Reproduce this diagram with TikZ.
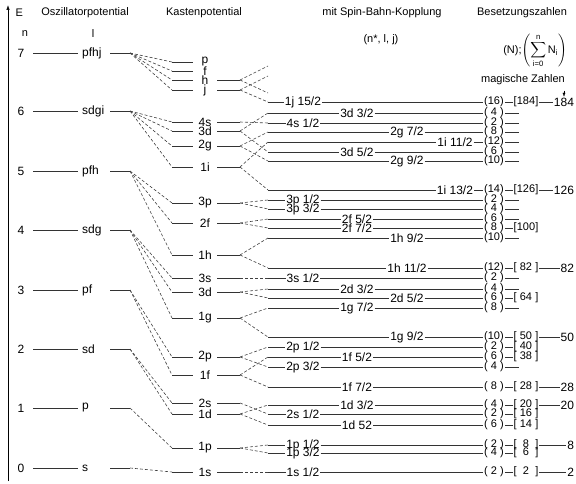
\documentclass[tikz,border=0pt]{standalone}
\usepackage{amsmath}
\usepackage{fontspec}
\setmainfont{Liberation Sans}
\usetikzlibrary{arrows.meta}
\newcommand{\occ}[1]{(\makebox[1.12em]{#1})}
\newcommand{\cum}[1]{[\makebox[1.7em]{#1}]}

\begin{document}
\begin{tikzpicture}[x=1pt, y=-1pt, font=\fontsize{11}{13}\selectfont,
  lvl/.style={line width=0.8pt, black!80},
  split/.style={line width=0.6pt, black!75, dash pattern=on 3pt off 2pt},
  lab/.style={inner sep=0.8pt},
  big/.style={font=\fontsize{12}{14}\selectfont}]
  \useasboundingbox (0,0) rectangle (576,484);

  % Energy axis and headers
  \coordinate (E0) at (8,481);
  \coordinate (E1) at (8,5);
  \draw[line width=0.7pt, -{Latex[length=5pt,width=3.5pt]}] (E0) -- (E1);
  \node[anchor=west] (hE) at (12,13) {E};
  \node (hOsc) at (85,13) {Oszillatorpotential};
  \node (hKast) at (204,13) {Kastenpotential};
  \node (hSB) at (382,13) {mit Spin-Bahn-Kopplung};
  \node (hBes) at (522,13) {Besetzungszahlen};
  \node (hn) at (25,34) {n};
  \node (hl) at (93,34) {l};
  \node (hnlj) at (381,40) {(n*, l, j)};
  \node[inner sep=0pt] (hsum) at (535,51) {(N);$\displaystyle\left(\sum_{\text{i=0}}^{\text{n}}\text{N}_{\text{i}}\right)$};
  \node (hmag) at (523,80) {magische Zahlen};

  % Oszillatorpotential
  \foreach \n/\y/\lab in {7/53/pfhj, 6/111/sdgi, 5/171/pfh, 4/230/sdg,
                           3/290/pf, 2/349/sd, 1/408/p, 0/468/s} {
    \node[big] (On\n) at (21,\y) {\n};
    \node[big, anchor=west, inner sep=0pt] (Ol\n) at (82,\y) {\lab};
    \coordinate (O\n-r) at (130,\y);
    \draw[lvl] (33,\y) -- (78,\y);
    \draw[lvl] (Ol\n.east -| 110,0) -- (O\n-r);
  }

  % Kastenpotential
  \foreach \id/\y/\lab in {p7/62/p, f7/71/f, h7/80/h, j7/90/j,
      s6/122/4s, d6/131/3d, g6/146/2g, i6/167/1i,
      p5/203/3p, f5/223/2f, h5/255/1h, s4/278/3s, d4/292/3d, g4/318/1g,
      p3/357/2p, f3/375/1f, s2/403/2s, d2/414/1d, p1/448/1p, s0/472/1s} {
    \node[lab, big] (K\id) at (205,\y) {\lab};
    \coordinate (K\id-l) at (172,\y);
    \coordinate (K\id-r) at (240,\y);
    \draw[lvl] (K\id-l) -- ++(21,0);
  }
  \foreach \id in {h7, j7, s6, d6, g6, i6, p5, f5, h5, s4, d4, g4,
                   p3, f3, s2, d2, p1, s0}
    \draw[lvl] (K\id-r) -- ++(-23,0);

  % Spin-Bahn-Kopplung levels
  \foreach \id/\y/\x/\txt/\num in {
      1j15/102/303/{1j 15/2}/16, 3d3/113/357/{3d 3/2}/4, 4s1/123/303/{4s 1/2}/2,
      2g7/132/407/{2g 7/2}/8, 1i11/142/455/{1i 11/2}/12, 3d5/152/357/{3d 5/2}/6,
      2g9/161/407/{2g 9/2}/10, 1i13/190/455/{1i 13/2}/14,
      3p1/200/303/{3p 1/2}/2, 3p3/209/303/{3p 3/2}/4, 2f5/219/357/{2f 5/2}/6,
      2f7/228/357/{2f 7/2}/8, 1h9/238/407/{1h 9/2}/10, 1h11/268/407/{1h 11/2}/12,
      3s1/278/303/{3s 1/2}/2, 2d3/289/357/{2d 3/2}/4, 2d5/298/407/{2d 5/2}/6,
      1g7/308/357/{1g 7/2}/8, 1g9/337/407/{1g 9/2}/10, 2p1/347/303/{2p 1/2}/2,
      1f5/357/357/{1f 5/2}/6, 2p3/367/303/{2p 3/2}/4, 1f7/387/357/{1f 7/2}/8,
      1d3/405/357/{1d 3/2}/4, 2s1/414/303/{2s 1/2}/2, 1d5/425/357/{1d 52}/6,
      1p1/445/303/{1p 1/2}/2, 1p3/453/303/{1p 3/2}/4, 1s1/472/303/{1s 1/2}/2} {
    \coordinate (S\id) at (268,\y);
    \node[lab, big, inner ysep=0pt] (S\id-t) at (\x,\y) {\txt};
    \node[lab, inner ysep=0pt] (S\id-n) at (494,\y) {\occ{\num}};
    \draw[lvl] (S\id) -- (S\id-t);
    \draw[lvl] (S\id-t) -- (S\id-n);
  }

  % stubs without sums
  \foreach \id in {3d3, 4s1, 2g7, 1i11, 3d5, 2g9, 3p1, 3p3, 2f5, 1h9,
                   3s1, 2d3, 1g7, 2p3}
    \draw[lvl] (S\id-n.east) -- ++(14,0);

  % sums and magic numbers
  \foreach \id/\sum in {1j15/184, 1i13/126, 2f7/100, 1h11/82, 2d5/64, 1g9/50,
      2p1/40, 1f5/38, 1f7/28, 1d3/20, 2s1/16, 1d5/14, 1p1/8, 1p3/6, 1s1/2} {
    \node[lab, inner ysep=0pt] (B\id) at (526,0 |- S\id) {\cum{\sum}};
    \draw[lvl] (S\id-n) -- (B\id);
  }
  \foreach \id/\mag in {1j15/184, 1i13/126, 1h11/82, 1g9/50, 1f7/28, 1d3/20,
                        1p1/8, 1s1/2} {
    \node[lab, big, anchor=east] (M\id) at (575,0 |- S\id) {\mag};
    \draw[lvl] (B\id) -- (M\id);
  }
  \draw[-{Latex[length=4pt,width=3pt]}] ([yshift=-2pt]M1j15.north |- hmag.south) -- (M1j15.north);

  % Oszillator -> Kasten
  \foreach \o/\k in {7/p7, 7/f7, 7/h7, 7/j7, 6/s6, 6/d6, 6/g6, 6/i6,
                     5/p5, 5/f5, 5/h5, 4/s4, 4/d4, 4/g4, 3/p3, 3/f3,
                     2/s2, 2/d2, 1/p1, 0/s0}
    \draw[split] (O\o-r) -- (K\k-l);

  % Kasten -> Spin-Bahn
  \foreach \k/\s in {j7/1j15, s6/4s1, d6/3d3, d6/3d5, g6/2g7, g6/2g9,
                     i6/1i11, i6/1i13, p5/3p1, p5/3p3, f5/2f5, f5/2f7,
                     h5/1h9, h5/1h11, s4/3s1, d4/2d3, d4/2d5, g4/1g7, g4/1g9,
                     p3/2p1, p3/2p3, f3/1f5, f3/1f7, s2/2s1, d2/1d3, d2/1d5,
                     p1/1p1, p1/1p3, s0/1s1}
    \draw[split] (K\k-r) -- (S\s);

  % upper split levels, not shown further
  \coordinate (u1) at (268,66);
  \coordinate (u2) at (268,76);
  \coordinate (u3) at (268,93);
  \draw[split] (Kh7-r) -- (u1);
  \draw[split] (Kh7-r) -- (u3);
  \draw[split] (Kj7-r) -- (u2);
\end{tikzpicture}
\end{document}
